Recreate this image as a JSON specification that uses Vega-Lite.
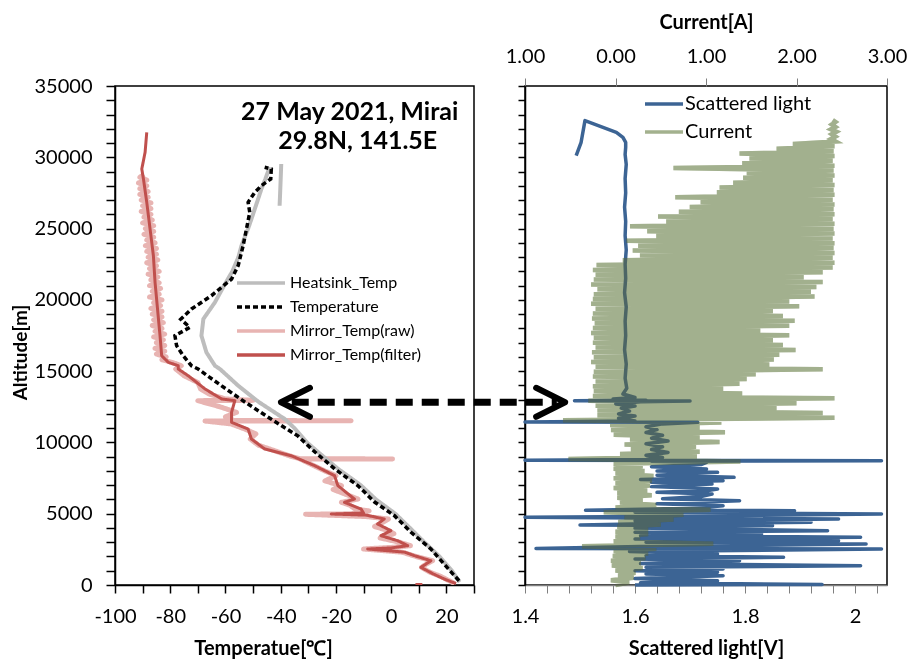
{
 "$schema": "https://vega.github.io/schema/vega-lite/v6.json",
 "background": "white",
 "padding": {"left": 10, "top": 11, "right": 5, "bottom": 5},
 "bounds": "flush",
 "spacing": 51,
 "config": {
  "font": "Lato",
  "view": {"stroke": "black", "strokeWidth": 1.5},
  "axis": {"grid": false, "labelFont": "Lato", "titleFont": "Lato", "labelColor": "black", "titleColor": "black", "labelFontSize": 20, "titleFontSize": 20, "titleFontWeight": "bold", "labelOverlap": false, "labelFlush": false, "labelBound": false},
  "legend": {"labelFont": "Lato", "labelColor": "black"}
 },
 "datasets": {
  "left": [
   {"s":"Mirror_Temp(raw)","g":1,"a":100,"t":23},{"s":"Mirror_Temp(raw)","g":1,"a":300,"t":21},{"s":"Mirror_Temp(raw)","g":1,"a":600,"t":18},{"s":"Mirror_Temp(raw)","g":1,"a":900,"t":14},{"s":"Mirror_Temp(raw)","g":1,"a":1240,"t":11},{"s":"Mirror_Temp(raw)","g":1,"a":1500,"t":13},{"s":"Mirror_Temp(raw)","g":1,"a":1700,"t":15},{"s":"Mirror_Temp(raw)","g":1,"a":2000,"t":9},{"s":"Mirror_Temp(raw)","g":1,"a":2300,"t":4},{"s":"Mirror_Temp(raw)","g":1,"a":2525,"t":-10},{"s":"Mirror_Temp(raw)","g":1,"a":2650,"t":1},{"s":"Mirror_Temp(raw)","g":1,"a":2760,"t":7},{"s":"Mirror_Temp(raw)","g":1,"a":3000,"t":3},{"s":"Mirror_Temp(raw)","g":1,"a":3300,"t":-4},{"s":"Mirror_Temp(raw)","g":1,"a":3600,"t":1},{"s":"Mirror_Temp(raw)","g":1,"a":3810,"t":-1},{"s":"Mirror_Temp(raw)","g":1,"a":4100,"t":-6},{"s":"Mirror_Temp(raw)","g":1,"a":4400,"t":-3},{"s":"Mirror_Temp(raw)","g":1,"a":4630,"t":-1},{"s":"Mirror_Temp(raw)","g":1,"a":4800,"t":-9},{"s":"Mirror_Temp(raw)","g":1,"a":4960,"t":-31},{"s":"Mirror_Temp(raw)","g":1,"a":5000,"t":-12},{"s":"Mirror_Temp(raw)","g":1,"a":5200,"t":-8},{"s":"Mirror_Temp(raw)","g":1,"a":5330,"t":-13},{"s":"Mirror_Temp(raw)","g":1,"a":5600,"t":-15},{"s":"Mirror_Temp(raw)","g":1,"a":5800,"t":-18},{"s":"Mirror_Temp(raw)","g":1,"a":6030,"t":-12},{"s":"Mirror_Temp(raw)","g":1,"a":6400,"t":-17},{"s":"Mirror_Temp(raw)","g":1,"a":6700,"t":-21},{"s":"Mirror_Temp(raw)","g":1,"a":6970,"t":-18},{"s":"Mirror_Temp(raw)","g":1,"a":7300,"t":-24},{"s":"Mirror_Temp(raw)","g":1,"a":7670,"t":-20},{"s":"Mirror_Temp(raw)","g":1,"a":8000,"t":-24},{"s":"Mirror_Temp(raw)","g":1,"a":8370,"t":-28},{"s":"Mirror_Temp(raw)","g":1,"a":8840,"t":-33},{"s":"Mirror_Temp(raw)","g":1,"a":8845,"t":0.5},{"s":"Mirror_Temp(raw)","g":1,"a":8850,"t":-33},{"s":"Mirror_Temp(raw)","g":1,"a":9070,"t":-37},{"s":"Mirror_Temp(raw)","g":1,"a":9540,"t":-44},{"s":"Mirror_Temp(raw)","g":1,"a":9800,"t":-48},{"s":"Mirror_Temp(raw)","g":1,"a":10240,"t":-51},{"s":"Mirror_Temp(raw)","g":1,"a":10600,"t":-49},{"s":"Mirror_Temp(raw)","g":1,"a":10940,"t":-53},{"s":"Mirror_Temp(raw)","g":1,"a":11300,"t":-58},{"s":"Mirror_Temp(raw)","g":1,"a":11500,"t":-67.4},{"s":"Mirror_Temp(raw)","g":1,"a":11520,"t":-14.5},{"s":"Mirror_Temp(raw)","g":1,"a":11540,"t":-57},{"s":"Mirror_Temp(raw)","g":1,"a":11800,"t":-60},{"s":"Mirror_Temp(raw)","g":1,"a":12110,"t":-56},{"s":"Mirror_Temp(raw)","g":1,"a":12500,"t":-62},{"s":"Mirror_Temp(raw)","g":1,"a":12930,"t":-70},{"s":"Mirror_Temp(raw)","g":1,"a":12950,"t":-50},{"s":"Mirror_Temp(raw)","g":1,"a":13050,"t":-60},{"s":"Mirror_Temp(raw)","g":1,"a":13400,"t":-66},{"s":"Mirror_Temp(raw)","g":1,"a":13750,"t":-69},{"s":"Mirror_Temp(raw)","g":1,"a":14200,"t":-70},{"s":"Mirror_Temp(raw)","g":1,"a":14680,"t":-75},{"s":"Mirror_Temp(raw)","g":1,"a":15150,"t":-78},{"s":"Mirror_Temp(raw)","g":1,"a":15380,"t":-76},
   {"s":"Mirror_Temp(raw)","g":1,"a":15600,"t":-79},{"s":"Mirror_Temp(raw)","g":1,"a":15800,"t":-83},{"s":"Mirror_Temp(raw)","g":1,"a":16000,"t":-81.5},{"s":"Mirror_Temp(raw)","g":1,"a":16200,"t":-85},{"s":"Mirror_Temp(raw)","g":1,"a":16400,"t":-82},{"s":"Mirror_Temp(raw)","g":1,"a":16600,"t":-85.5},{"s":"Mirror_Temp(raw)","g":1,"a":16800,"t":-82},{"s":"Mirror_Temp(raw)","g":1,"a":17000,"t":-85},{"s":"Mirror_Temp(raw)","g":1,"a":17200,"t":-82.5},{"s":"Mirror_Temp(raw)","g":1,"a":17400,"t":-86},{"s":"Mirror_Temp(raw)","g":1,"a":17600,"t":-82},{"s":"Mirror_Temp(raw)","g":1,"a":17800,"t":-85.5},{"s":"Mirror_Temp(raw)","g":1,"a":18000,"t":-83},{"s":"Mirror_Temp(raw)","g":1,"a":18200,"t":-86.5},{"s":"Mirror_Temp(raw)","g":1,"a":18400,"t":-82.5},{"s":"Mirror_Temp(raw)","g":1,"a":18600,"t":-86},{"s":"Mirror_Temp(raw)","g":1,"a":18800,"t":-83},{"s":"Mirror_Temp(raw)","g":1,"a":19000,"t":-86.5},{"s":"Mirror_Temp(raw)","g":1,"a":19200,"t":-83},{"s":"Mirror_Temp(raw)","g":1,"a":19400,"t":-87},{"s":"Mirror_Temp(raw)","g":1,"a":19600,"t":-83.5},{"s":"Mirror_Temp(raw)","g":1,"a":19800,"t":-86},{"s":"Mirror_Temp(raw)","g":1,"a":20000,"t":-83},{"s":"Mirror_Temp(raw)","g":1,"a":20200,"t":-87.5},{"s":"Mirror_Temp(raw)","g":1,"a":20400,"t":-84},{"s":"Mirror_Temp(raw)","g":1,"a":20600,"t":-86.5},{"s":"Mirror_Temp(raw)","g":1,"a":20800,"t":-83.5},{"s":"Mirror_Temp(raw)","g":1,"a":21000,"t":-87.5},{"s":"Mirror_Temp(raw)","g":1,"a":21200,"t":-84},{"s":"Mirror_Temp(raw)","g":1,"a":21400,"t":-87},{"s":"Mirror_Temp(raw)","g":1,"a":21600,"t":-84.5},{"s":"Mirror_Temp(raw)","g":1,"a":21800,"t":-88},{"s":"Mirror_Temp(raw)","g":1,"a":22000,"t":-84},{"s":"Mirror_Temp(raw)","g":1,"a":22200,"t":-87.5},{"s":"Mirror_Temp(raw)","g":1,"a":22400,"t":-85},{"s":"Mirror_Temp(raw)","g":1,"a":22600,"t":-88.5},{"s":"Mirror_Temp(raw)","g":1,"a":22800,"t":-84.5},{"s":"Mirror_Temp(raw)","g":1,"a":23000,"t":-88},{"s":"Mirror_Temp(raw)","g":1,"a":23200,"t":-85},{"s":"Mirror_Temp(raw)","g":1,"a":23400,"t":-88.5},{"s":"Mirror_Temp(raw)","g":1,"a":23600,"t":-85},{"s":"Mirror_Temp(raw)","g":1,"a":23800,"t":-89},{"s":"Mirror_Temp(raw)","g":1,"a":24000,"t":-85.5},{"s":"Mirror_Temp(raw)","g":1,"a":24200,"t":-88.5},{"s":"Mirror_Temp(raw)","g":1,"a":24400,"t":-86},{"s":"Mirror_Temp(raw)","g":1,"a":24600,"t":-89.5},{"s":"Mirror_Temp(raw)","g":1,"a":24800,"t":-86},{"s":"Mirror_Temp(raw)","g":1,"a":25000,"t":-89},{"s":"Mirror_Temp(raw)","g":1,"a":25200,"t":-86},{"s":"Mirror_Temp(raw)","g":1,"a":25400,"t":-90},{"s":"Mirror_Temp(raw)","g":1,"a":25600,"t":-86.5},{"s":"Mirror_Temp(raw)","g":1,"a":25800,"t":-89.5},{"s":"Mirror_Temp(raw)","g":1,"a":26000,"t":-87},{"s":"Mirror_Temp(raw)","g":1,"a":26200,"t":-90.5},{"s":"Mirror_Temp(raw)","g":1,"a":26400,"t":-87},{"s":"Mirror_Temp(raw)","g":1,"a":26600,"t":-90},{"s":"Mirror_Temp(raw)","g":1,"a":26800,"t":-87},{"s":"Mirror_Temp(raw)","g":1,"a":27000,"t":-90.5},{"s":"Mirror_Temp(raw)","g":1,"a":27200,"t":-88},{"s":"Mirror_Temp(raw)","g":1,"a":27400,"t":-91},{"s":"Mirror_Temp(raw)","g":1,"a":27600,"t":-88},{"s":"Mirror_Temp(raw)","g":1,"a":27800,"t":-91},{"s":"Mirror_Temp(raw)","g":1,"a":28000,"t":-88.5},{"s":"Mirror_Temp(raw)","g":1,"a":28200,"t":-91.5},{"s":"Mirror_Temp(raw)","g":1,"a":28400,"t":-88.5},{"s":"Mirror_Temp(raw)","g":1,"a":28600,"t":-91},{"s":"Mirror_Temp(raw)","g":1,"a":28800,"t":-89.5},
   {"s":"Heatsink_Temp","g":1,"a":200,"t":24.8},{"s":"Heatsink_Temp","g":1,"a":1000,"t":22},{"s":"Heatsink_Temp","g":1,"a":2000,"t":17.5},{"s":"Heatsink_Temp","g":1,"a":3000,"t":12},{"s":"Heatsink_Temp","g":1,"a":4000,"t":6.8},{"s":"Heatsink_Temp","g":1,"a":5000,"t":1.5},{"s":"Heatsink_Temp","g":1,"a":6000,"t":-5.5},{"s":"Heatsink_Temp","g":1,"a":7000,"t":-11},{"s":"Heatsink_Temp","g":1,"a":8140,"t":-19.2},{"s":"Heatsink_Temp","g":1,"a":9330,"t":-26.5},{"s":"Heatsink_Temp","g":1,"a":10000,"t":-30.5},{"s":"Heatsink_Temp","g":1,"a":11000,"t":-35},{"s":"Heatsink_Temp","g":1,"a":11640,"t":-38.5},{"s":"Heatsink_Temp","g":1,"a":12840,"t":-48},{"s":"Heatsink_Temp","g":1,"a":14000,"t":-55.5},{"s":"Heatsink_Temp","g":1,"a":15150,"t":-62},{"s":"Heatsink_Temp","g":1,"a":15380,"t":-63.8},{"s":"Heatsink_Temp","g":1,"a":16320,"t":-66.9},{"s":"Heatsink_Temp","g":1,"a":17490,"t":-68.7},{"s":"Heatsink_Temp","g":1,"a":18660,"t":-68},{"s":"Heatsink_Temp","g":1,"a":19830,"t":-63.8},{"s":"Heatsink_Temp","g":1,"a":21000,"t":-60.5},{"s":"Heatsink_Temp","g":1,"a":22000,"t":-57.5},{"s":"Heatsink_Temp","g":1,"a":23000,"t":-55.3},{"s":"Heatsink_Temp","g":1,"a":23800,"t":-54.2},{"s":"Heatsink_Temp","g":1,"a":25000,"t":-51.8},{"s":"Heatsink_Temp","g":1,"a":25670,"t":-50.6},{"s":"Heatsink_Temp","g":1,"a":27000,"t":-48.3},{"s":"Heatsink_Temp","g":1,"a":27770,"t":-47},{"s":"Heatsink_Temp","g":1,"a":28500,"t":-45.5},{"s":"Heatsink_Temp","g":1,"a":29320,"t":-44},
   {"s":"Heatsink_Temp","g":2,"a":26600,"t":-40.4},{"s":"Heatsink_Temp","g":2,"a":27500,"t":-40.2},{"s":"Heatsink_Temp","g":2,"a":28500,"t":-40},{"s":"Heatsink_Temp","g":2,"a":29530,"t":-39.8},
   {"s":"Mirror_Temp(filter)","g":1,"a":100,"t":23.5},{"s":"Mirror_Temp(filter)","g":1,"a":420,"t":19.2},{"s":"Mirror_Temp(filter)","g":1,"a":800,"t":15},{"s":"Mirror_Temp(filter)","g":1,"a":1240,"t":10.8},{"s":"Mirror_Temp(filter)","g":1,"a":1700,"t":14.4},{"s":"Mirror_Temp(filter)","g":1,"a":2060,"t":8.4},{"s":"Mirror_Temp(filter)","g":1,"a":2300,"t":5},{"s":"Mirror_Temp(filter)","g":1,"a":2450,"t":-4},{"s":"Mirror_Temp(filter)","g":1,"a":2525,"t":-8.5},{"s":"Mirror_Temp(filter)","g":1,"a":2600,"t":0},{"s":"Mirror_Temp(filter)","g":1,"a":2760,"t":6},{"s":"Mirror_Temp(filter)","g":1,"a":3110,"t":2.3},{"s":"Mirror_Temp(filter)","g":1,"a":3460,"t":-3.7},{"s":"Mirror_Temp(filter)","g":1,"a":3810,"t":-0.1},{"s":"Mirror_Temp(filter)","g":1,"a":4280,"t":-4.9},{"s":"Mirror_Temp(filter)","g":1,"a":4630,"t":-2.5},{"s":"Mirror_Temp(filter)","g":1,"a":4900,"t":-9},{"s":"Mirror_Temp(filter)","g":1,"a":4980,"t":-21.7},{"s":"Mirror_Temp(filter)","g":1,"a":5050,"t":-10},{"s":"Mirror_Temp(filter)","g":1,"a":5330,"t":-10.9},{"s":"Mirror_Temp(filter)","g":1,"a":5800,"t":-16.9},{"s":"Mirror_Temp(filter)","g":1,"a":6030,"t":-13.3},{"s":"Mirror_Temp(filter)","g":1,"a":6970,"t":-19.3},{"s":"Mirror_Temp(filter)","g":1,"a":7670,"t":-20.5},{"s":"Mirror_Temp(filter)","g":1,"a":8370,"t":-27.7},{"s":"Mirror_Temp(filter)","g":1,"a":9070,"t":-36.2},{"s":"Mirror_Temp(filter)","g":1,"a":9540,"t":-45.8},{"s":"Mirror_Temp(filter)","g":1,"a":10240,"t":-50.6},{"s":"Mirror_Temp(filter)","g":1,"a":10940,"t":-51.8},{"s":"Mirror_Temp(filter)","g":1,"a":11410,"t":-57.8},{"s":"Mirror_Temp(filter)","g":1,"a":12110,"t":-57.8},{"s":"Mirror_Temp(filter)","g":1,"a":12930,"t":-56.6},{"s":"Mirror_Temp(filter)","g":1,"a":13050,"t":-61.4},{"s":"Mirror_Temp(filter)","g":1,"a":13750,"t":-67.4},{"s":"Mirror_Temp(filter)","g":1,"a":14680,"t":-73.5},{"s":"Mirror_Temp(filter)","g":1,"a":15150,"t":-77.1},{"s":"Mirror_Temp(filter)","g":1,"a":15380,"t":-77.1},{"s":"Mirror_Temp(filter)","g":1,"a":15620,"t":-80.7},{"s":"Mirror_Temp(filter)","g":1,"a":16080,"t":-83.1},{"s":"Mirror_Temp(filter)","g":1,"a":17490,"t":-83.7},{"s":"Mirror_Temp(filter)","g":1,"a":19360,"t":-84.6},{"s":"Mirror_Temp(filter)","g":1,"a":21230,"t":-85.5},{"s":"Mirror_Temp(filter)","g":1,"a":23100,"t":-86.1},{"s":"Mirror_Temp(filter)","g":1,"a":24970,"t":-87.3},{"s":"Mirror_Temp(filter)","g":1,"a":26840,"t":-88.5},{"s":"Mirror_Temp(filter)","g":1,"a":28480,"t":-89.7},{"s":"Mirror_Temp(filter)","g":1,"a":29180,"t":-90.3},{"s":"Mirror_Temp(filter)","g":1,"a":30350,"t":-89.1},{"s":"Mirror_Temp(filter)","g":1,"a":31750,"t":-88.5},
   {"s":"Mirror_Temp(filter)","g":2,"a":40,"t":8.8},{"s":"Mirror_Temp(filter)","g":2,"a":40,"t":11.3},
   {"s":"Temperature","g":1,"a":300,"t":24.6},{"s":"Temperature","g":1,"a":1000,"t":21.3},{"s":"Temperature","g":1,"a":2525,"t":14.4},{"s":"Temperature","g":1,"a":3700,"t":7.2},{"s":"Temperature","g":1,"a":4860,"t":1.2},{"s":"Temperature","g":1,"a":5820,"t":-6},{"s":"Temperature","g":1,"a":6960,"t":-12},{"s":"Temperature","g":1,"a":8140,"t":-20.4},{"s":"Temperature","g":1,"a":9330,"t":-27.6},{"s":"Temperature","g":1,"a":10460,"t":-33.8},{"s":"Temperature","g":1,"a":11640,"t":-43.5},{"s":"Temperature","g":1,"a":12840,"t":-53},{"s":"Temperature","g":1,"a":13980,"t":-61.5},{"s":"Temperature","g":1,"a":15150,"t":-69.9},{"s":"Temperature","g":1,"a":15380,"t":-72.3},{"s":"Temperature","g":1,"a":16080,"t":-75.3},{"s":"Temperature","g":1,"a":16790,"t":-77.7},{"s":"Temperature","g":1,"a":17490,"t":-78.3},{"s":"Temperature","g":1,"a":18070,"t":-72.9},{"s":"Temperature","g":1,"a":18640,"t":-76.2},{"s":"Temperature","g":1,"a":19360,"t":-72.3},{"s":"Temperature","g":1,"a":20290,"t":-65.1},{"s":"Temperature","g":1,"a":21460,"t":-57.8},{"s":"Temperature","g":1,"a":22400,"t":-55.4},{"s":"Temperature","g":1,"a":23800,"t":-53.6},{"s":"Temperature","g":1,"a":24970,"t":-52.4},{"s":"Temperature","g":1,"a":26140,"t":-51.2},{"s":"Temperature","g":1,"a":26840,"t":-51.8},{"s":"Temperature","g":1,"a":27540,"t":-49.4},{"s":"Temperature","g":1,"a":28010,"t":-47},{"s":"Temperature","g":1,"a":28480,"t":-43.6},{"s":"Temperature","g":1,"a":29180,"t":-43.4},{"s":"Temperature","g":1,"a":29300,"t":-45.8}
  ],
  "blue": [
   {"a":0,"v":1.6},{"a":40,"v":1.94},{"a":150,"v":1.61},{"a":300,"v":1.75},{"a":450,"v":1.6},{"a":655,"v":1.76},{"a":780,"v":1.62},{"a":889,"v":1.75},{"a":1000,"v":1.6},{"a":1122,"v":1.76},{"a":1240,"v":1.62},{"a":1356,"v":2.01},{"a":1500,"v":1.61},{"a":1706,"v":1.79},{"a":1820,"v":1.6},{"a":1940,"v":1.87},{"a":2060,"v":1.62},{"a":2174,"v":1.75},{"a":2350,"v":1.59},{"a":2525,"v":2.048},{"a":2560,"v":1.42},{"a":2700,"v":1.61},{"a":2875,"v":2.02},{"a":3000,"v":1.62},{"a":3109,"v":1.97},{"a":3220,"v":1.6},{"a":3343,"v":2.01},{"a":3460,"v":1.61},{"a":3577,"v":1.83},{"a":3700,"v":1.6},{"a":3811,"v":1.95},{"a":3990,"v":1.6},{"a":4162,"v":1.85},{"a":4200,"v":1.5},{"a":4300,"v":1.62},{"a":4396,"v":1.92},{"a":4500,"v":1.6},{"a":4629,"v":1.97},{"a":4700,"v":1.61},{"a":4746,"v":1.4},{"a":4800,"v":1.62},{"a":4980,"v":2.048},{"a":5100,"v":1.6},{"a":5214,"v":1.89},{"a":5240,"v":1.51},{"a":5330,"v":1.64},{"a":5450,"v":1.73},{"a":5565,"v":1.76},{"a":5700,"v":1.64},{"a":5915,"v":1.79},{"a":6050,"v":1.65},{"a":6200,"v":1.72},{"a":6383,"v":1.74},{"a":6500,"v":1.64},{"a":6617,"v":1.73},{"a":6733,"v":1.75},{"a":6900,"v":1.63},{"a":7084,"v":1.74},{"a":7200,"v":1.63},{"a":7318,"v":1.76},{"a":7400,"v":1.61},{"a":7551,"v":1.78},{"a":7700,"v":1.64},{"a":7902,"v":1.75},{"a":8000,"v":1.64},{"a":8136,"v":1.73},{"a":8300,"v":1.63},{"a":8450,"v":1.72},{"a":8603,"v":1.73},{"a":8680,"v":1.63},{"a":8720,"v":2.048},{"a":8750,"v":1.4},{"a":8800,"v":1.62},{"a":8950,"v":1.65},{"a":9100,"v":1.62},{"a":9300,"v":1.66},{"a":9500,"v":1.63},{"a":9700,"v":1.65},{"a":9900,"v":1.62},{"a":10100,"v":1.66},{"a":10300,"v":1.63},{"a":10500,"v":1.65},{"a":10700,"v":1.62},{"a":10900,"v":1.64},{"a":11100,"v":1.62},{"a":11300,"v":1.65},{"a":11410,"v":1.714},{"a":11440,"v":1.4},{"a":11500,"v":1.6},{"a":11700,"v":1.57},{"a":11850,"v":1.6},{"a":12000,"v":1.57},{"a":12200,"v":1.59},{"a":12400,"v":1.575},{"a":12550,"v":1.6},{"a":12700,"v":1.565},{"a":12850,"v":1.61},{"a":12900,"v":1.7},{"a":12930,"v":1.49},{"a":12960,"v":1.62},{"a":13050,"v":1.56},{"a":13150,"v":1.6},{"a":13400,"v":1.578},{"a":13800,"v":1.585},{"a":14500,"v":1.582},{"a":15500,"v":1.584},{"a":16500,"v":1.581},{"a":17500,"v":1.583},{"a":18500,"v":1.582},{"a":19500,"v":1.584},{"a":20500,"v":1.581},{"a":21500,"v":1.583},{"a":22500,"v":1.582},{"a":23500,"v":1.584},{"a":24500,"v":1.582},{"a":25500,"v":1.583},{"a":26500,"v":1.581},{"a":27500,"v":1.583},{"a":28500,"v":1.582},{"a":29500,"v":1.584},{"a":30200,"v":1.582},{"a":30700,"v":1.583},{"a":31050,"v":1.583},{"a":31400,"v":1.578},{"a":31750,"v":1.566},{"a":32570,"v":1.509},{"a":31050,"v":1.502},{"a":30110,"v":1.493}
  ],
  "green": [
   {"a":0,"c":0.0},{"a":170,"c":0.15},{"a":340,"c":-0.05},{"a":510,"c":0.2},{"a":680,"c":0.03},{"a":850,"c":0.22},{"a":1020,"c":0.0},{"a":1190,"c":0.3},{"a":1360,"c":-0.04},{"a":1530,"c":0.28},{"a":1700,"c":-0.05},{"a":1870,"c":0.33},{"a":2040,"c":-0.03},{"a":2210,"c":0.36},{"a":2380,"c":-0.02},{"a":2550,"c":0.45},{"a":2720,"c":-0.37},{"a":2890,"c":1.08},{"a":3060,"c":-0.02},{"a":3230,"c":0.27},{"a":3400,"c":0.0},{"a":3570,"c":0.36},{"a":3740,"c":0.0},{"a":3910,"c":0.36},{"a":4080,"c":0.02},{"a":4250,"c":0.5},{"a":4420,"c":0.03},{"a":4590,"c":0.64},{"a":4760,"c":0.1},{"a":4930,"c":0.75},{"a":5100,"c":-0.13},{"a":5270,"c":1.05},{"a":5440,"c":0.0},{"a":5610,"c":0.45},{"a":5780,"c":0.05},{"a":5950,"c":0.3},{"a":6120,"c":0.02},{"a":6290,"c":0.4},{"a":6460,"c":0.02},{"a":6630,"c":0.35},{"a":6800,"c":-0.02},{"a":6970,"c":0.38},{"a":7140,"c":0.0},{"a":7310,"c":0.4},{"a":7480,"c":-0.02},{"a":7650,"c":0.42},{"a":7820,"c":0.0},{"a":7990,"c":0.32},{"a":8160,"c":-0.02},{"a":8330,"c":0.3},{"a":8500,"c":-0.02},{"a":8670,"c":1.38},{"a":8840,"c":-0.52},{"a":9010,"c":0.9},{"a":9180,"c":0.05},{"a":9350,"c":0.93},{"a":9520,"c":0.17},{"a":9690,"c":0.89},{"a":9860,"c":0.1},{"a":10030,"c":1.15},{"a":10200,"c":0.16},{"a":10370,"c":0.93},{"a":10540,"c":-0.02},{"a":10710,"c":1.21},{"a":10880,"c":-0.05},{"a":11050,"c":0.93},{"a":11220,"c":-0.06},{"a":11390,"c":1.17},{"a":11560,"c":-0.58},{"a":11730,"c":2.42},{"a":11900,"c":-0.2},{"a":12070,"c":2.29},{"a":12240,"c":-0.2},{"a":12410,"c":1.78},{"a":12580,"c":-0.22},{"a":12750,"c":2.0},{"a":12920,"c":-0.3},{"a":13090,"c":2.42},{"a":13260,"c":-0.25},{"a":13430,"c":1.4},{"a":13600,"c":-0.24},{"a":13770,"c":1.19},{"a":13940,"c":-0.25},{"a":14110,"c":1.37},{"a":14280,"c":-0.22},{"a":14450,"c":1.45},{"a":14620,"c":-0.25},{"a":14790,"c":1.55},{"a":14960,"c":-0.24},{"a":15130,"c":2.29},{"a":15300,"c":-0.22},{"a":15470,"c":1.7},{"a":15640,"c":-0.27},{"a":15810,"c":1.75},{"a":15980,"c":-0.24},{"a":16150,"c":1.81},{"a":16320,"c":-0.26},{"a":16490,"c":1.99},{"a":16660,"c":-0.22},{"a":16830,"c":1.85},{"a":17000,"c":-0.25},{"a":17170,"c":1.74},{"a":17340,"c":-0.24},{"a":17510,"c":1.92},{"a":17680,"c":-0.27},{"a":17850,"c":1.6},{"a":18020,"c":-0.25},{"a":18190,"c":1.92},{"a":18360,"c":-0.23},{"a":18530,"c":1.98},{"a":18700,"c":-0.26},{"a":18870,"c":1.85},{"a":19040,"c":-0.25},{"a":19210,"c":1.74},{"a":19380,"c":-0.22},{"a":19550,"c":2.03},{"a":19720,"c":-0.27},{"a":19890,"c":1.92},{"a":20060,"c":-0.25},{"a":20230,"c":2.2},{"a":20400,"c":-0.24},{"a":20570,"c":2.16},{"a":20740,"c":-0.2},{"a":20910,"c":2.22},{"a":21080,"c":-0.27},{"a":21250,"c":2.29},{"a":21420,"c":-0.24},{"a":21590,"c":2.08},{"a":21760,"c":-0.22},{"a":21930,"c":2.29},{"a":22100,"c":-0.25},{"a":22270,"c":2.4},{"a":22440,"c":-0.21},{"a":22610,"c":2.42},{"a":22780,"c":0.08},{"a":22950,"c":2.4},{"a":23120,"c":0.27},{"a":23290,"c":2.42},{"a":23460,"c":0.19},{"a":23630,"c":2.41},{"a":23800,"c":0.25},{"a":23970,"c":2.42},{"a":24140,"c":0.12},{"a":24310,"c":2.4},{"a":24480,"c":0.45},{"a":24650,"c":2.42},{"a":24820,"c":0.35},{"a":24990,"c":2.41},{"a":25160,"c":0.16},{"a":25330,"c":2.42},{"a":25500,"c":0.56},{"a":25670,"c":2.4},{"a":25840,"c":0.47},{"a":26010,"c":2.42},{"a":26180,"c":0.7},{"a":26350,"c":2.41},{"a":26520,"c":0.82},{"a":26690,"c":2.42},{"a":26860,"c":0.94},{"a":27030,"c":2.4},{"a":27200,"c":0.66},{"a":27370,"c":2.42},{"a":27540,"c":1.12},{"a":27710,"c":2.41},{"a":27880,"c":1.15},{"a":28050,"c":2.42},{"a":28220,"c":1.3},{"a":28390,"c":2.4},{"a":28560,"c":1.41},{"a":28730,"c":2.42},{"a":28900,"c":1.45},{"a":29070,"c":2.41},{"a":29240,"c":0.64},{"a":29410,"c":2.42},{"a":29580,"c":1.4},{"a":29750,"c":2.4},{"a":29920,"c":1.48},{"a":30090,"c":2.42},{"a":30260,"c":1.37},{"a":30430,"c":2.41},{"a":30600,"c":1.78},{"a":30770,"c":2.42},{"a":30940,"c":1.96},{"a":31110,"c":2.43},{"a":31280,"c":2.38},{"a":31450,"c":2.43},{"a":31620,"c":2.39},{"a":31790,"c":2.44},{"a":31960,"c":2.38},{"a":32130,"c":2.43},{"a":32300,"c":2.39},{"a":32470,"c":2.43},{"a":32600,"c":2.4}
  ]
 },
 "hconcat": [
  {
   "width": 359,
   "height": 499,
   "data": {"name": "left"},
   "encoding": {
    "x": {"field": "t", "type": "quantitative", "scale": {"domain": [-100, 30], "nice": false, "zero": false},
     "axis": {"values": [-100,-90,-80,-70,-60,-50,-40,-30,-20,-10,0,10,20,30], "labelExpr": "datum.value % 20 == 0 && datum.value < 30 ? (datum.value < 0 ? '-' : '') + abs(datum.value) : ''", "title": "Temperatue[℃]", "titleX": 148, "titlePadding": 12, "tickSize": 8, "labelPadding": 13, "tickColor": "black", "domainColor": "black", "domainWidth": 1.5, "tickWidth": 1.5}},
    "y": {"field": "a", "type": "quantitative", "scale": {"domain": [0, 35000], "nice": false, "zero": false},
     "axis": {"values": [0,1000,2000,3000,4000,5000,6000,7000,8000,9000,10000,11000,12000,13000,14000,15000,16000,17000,18000,19000,20000,21000,22000,23000,24000,25000,26000,27000,28000,29000,30000,31000,32000,33000,34000,35000], "labelExpr": "datum.value % 5000 == 0 ? '' + datum.value : ''", "title": "Altitude[m]", "titleY": 266, "titlePadding": 4, "titleFontSize": 19, "tickSize": 9, "labelPadding": 14, "tickColor": "black", "domainColor": "black", "domainWidth": 1.5, "tickWidth": 1.5}}
   },
   "layer": [
    {"transform": [{"filter": "datum.s == 'Mirror_Temp(raw)'"}],
     "mark": {"type": "line", "strokeWidth": 5, "clip": true, "strokeJoin": "round"},
     "encoding": {
      "color": {"field": "s", "type": "nominal", "scale": {"domain": ["Heatsink_Temp","Temperature","Mirror_Temp(raw)","Mirror_Temp(filter)"], "range": ["#BDBDBD","#000000","#E8B4B2","#C0504D"]}, "legend": {"orient": "none", "legendX": 134, "legendY": 185, "title": null, "symbolType": "M-2.4,0H2.4", "symbolSize": 400, "symbolStrokeWidth": 3.5, "labelFontSize": 16, "labelOffset": 17, "rowPadding": 4}},
      "strokeDash": {"field": "s", "type": "nominal", "scale": {"domain": ["Heatsink_Temp","Temperature","Mirror_Temp(raw)","Mirror_Temp(filter)"], "range": [[1,0],[5,3],[1,0],[1,0]]}, "legend": {"orient": "none", "legendX": 134, "legendY": 185, "title": null, "symbolType": "M-2.4,0H2.4", "symbolSize": 400, "symbolStrokeWidth": 3.5, "labelFontSize": 16, "labelOffset": 17, "rowPadding": 4}},
      "detail": {"field": "g"},
      "order": {"value": null}
     }},
    {"transform": [{"filter": "datum.s == 'Heatsink_Temp'"}],
     "mark": {"type": "line", "strokeWidth": 4, "clip": true},
     "encoding": {
      "color": {"field": "s", "type": "nominal"},
      "strokeDash": {"field": "s", "type": "nominal"},
      "detail": {"field": "g"},
      "order": {"value": null}
     }},
    {"transform": [{"filter": "datum.s == 'Mirror_Temp(filter)'"}],
     "mark": {"type": "line", "strokeWidth": 3, "clip": true, "strokeJoin": "round"},
     "encoding": {
      "color": {"field": "s", "type": "nominal"},
      "strokeDash": {"field": "s", "type": "nominal"},
      "detail": {"field": "g"},
      "order": {"value": null}
     }},
    {"transform": [{"filter": "datum.s == 'Temperature'"}],
     "mark": {"type": "line", "strokeWidth": 3.5, "clip": true},
     "encoding": {
      "color": {"field": "s", "type": "nominal"},
      "strokeDash": {"field": "s", "type": "nominal"},
      "detail": {"field": "g"},
      "order": {"value": null}
     }},
    {"data": {"values": [{"t": -36, "t2": 60, "a": 12815}]},
     "mark": {"type": "rule", "color": "black", "strokeWidth": 7, "strokeDash": [17, 9], "clip": false},
     "encoding": {"x2": {"field": "t2"}}},
    {"data": {"values": [{"t": -39.9, "a": 12815, "d": "L"}, {"t": 63, "a": 12815, "d": "R"}]},
     "mark": {"type": "point", "filled": false, "stroke": "black", "strokeWidth": 6, "strokeCap": "round", "strokeJoin": "round", "size": 841, "opacity": 1, "clip": false},
     "encoding": {"shape": {"field": "d", "type": "nominal", "scale": {"domain": ["L", "R"], "range": ["M2,-1L0,0L2,1", "M-2,-1L0,0L-2,1"]}, "legend": null}}},
    {"data": {"values": [{"t": -15, "a": 33180, "txt": "27 May 2021, Mirai"}, {"t": -12.1, "a": 31160, "txt": "29.8N, 141.5E"}]},
     "mark": {"type": "text", "fontSize": 25, "fontWeight": "bold", "font": "Lato", "color": "black", "align": "center", "baseline": "middle"},
     "encoding": {"text": {"field": "txt"}}}
   ]
  },
  {
   "width": 362,
   "height": 499,
   "encoding": {
    "y": {"field": "a", "type": "quantitative", "scale": {"domain": [0, 35000], "nice": false, "zero": false},
     "axis": {"values": [0,1000,2000,3000,4000,5000,6000,7000,8000,9000,10000,11000,12000,13000,14000,15000,16000,17000,18000,19000,20000,21000,22000,23000,24000,25000,26000,27000,28000,29000,30000,31000,32000,33000,34000,35000], "labels": false, "title": null, "tickSize": 7, "tickColor": "black", "domainColor": "black", "domainWidth": 1.5, "tickWidth": 1.5}}
   },
   "layer": [
    {"data": {"name": "blue"},
     "mark": {"type": "line", "strokeWidth": 3.5, "clip": false, "strokeJoin": "round"},
     "encoding": {
      "x": {"field": "v", "type": "quantitative", "scale": {"domain": [1.4, 2.058], "nice": false, "zero": false},
       "axis": {"orient": "bottom", "values": [1.4,1.44,1.48,1.52,1.56,1.6,1.64,1.68,1.72,1.76,1.8,1.84,1.88,1.92,1.96,2,2.04], "labelExpr": "indexof(['1.4','1.6','1.8','2'], '' + datum.value) >= 0 ? '' + datum.value : ''", "title": "Scattered light[V]", "titlePadding": 12, "tickSize": 8, "labelPadding": 13, "tickColor": "#7F7F7F", "domainColor": "#7F7F7F", "domainWidth": 1.5}},
      "color": {"datum": "Scattered light", "type": "nominal", "scale": {"domain": ["Scattered light", "Current"], "range": ["#3C6494", "#A3B18E"]}, "legend": {"orient": "none", "legendX": 127, "legendY": 6, "title": null, "symbolType": "M-1.9,0H1.9", "symbolSize": 400, "symbolStrokeWidth": 3.5, "labelFontSize": 20, "labelOffset": 9, "rowPadding": 6}},
      "order": {"value": null}
     }},
    {"data": {"name": "green"},
     "mark": {"type": "line", "strokeWidth": 4.5, "clip": false, "blend": "multiply"},
     "encoding": {
      "x": {"field": "c", "type": "quantitative", "scale": {"domain": [-1, 3], "nice": false, "zero": false},
       "axis": {"orient": "top", "values": [-1, 0, 1, 2, 3], "labelExpr": "format(abs(datum.value), '.2f')", "title": "Current[A]", "titlePadding": 14, "tickSize": 8, "labelPadding": 12, "tickColor": "#7F7F7F", "domain": false}},
      "color": {"datum": "Current", "type": "nominal"},
      "order": {"value": null}
     }},
    {"data": {"name": "green"},
     "mark": {"type": "line", "strokeWidth": 4.5, "clip": false, "color": "#A3B18E", "opacity": 0.3},
     "encoding": {
      "x": {"field": "c", "type": "quantitative", "scale": {"domain": [-1, 3], "nice": false, "zero": false}, "axis": null},
      "order": {"value": null}
     }}
   ],
   "resolve": {"scale": {"x": "independent"}}
  }
 ],
 "resolve": {"scale": {"color": "independent", "strokeDash": "independent", "shape": "independent", "x": "independent", "y": "independent"}, "legend": {"color": "independent", "strokeDash": "independent"}}
}
